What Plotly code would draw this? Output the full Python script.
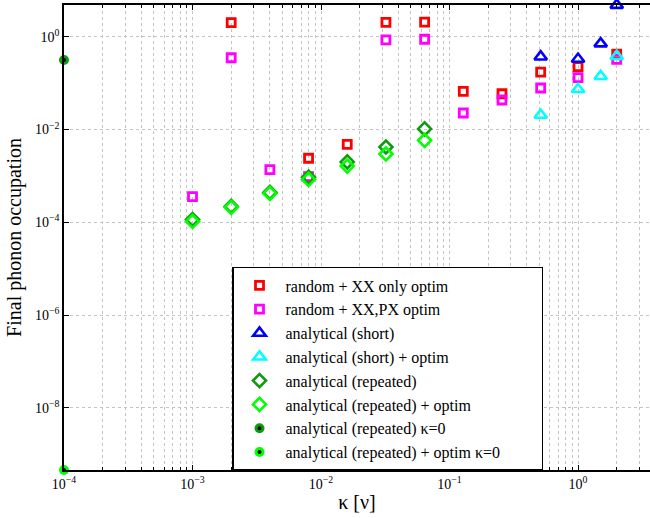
import plotly.graph_objects as go

# ---- data ----
x_red = [0.002, 0.008, 0.016, 0.032, 0.064, 0.128, 0.256, 0.512, 1.0, 2.0]
y_red = [2.0, 0.0024, 0.0048, 2.04, 2.07, 0.0665, 0.059, 0.173, 0.226, 0.42]

x_mag = [0.001, 0.002, 0.004, 0.008, 0.032, 0.064, 0.128, 0.256, 0.512, 1.0, 2.0, 3.9]
y_mag = [3.56e-4, 0.352, 1.36e-3, 9.6e-4, 0.85, 0.88, 0.0227, 0.0432, 0.0784, 0.131, 0.326, 1.0]

x_blue = [0.512, 1.0, 1.5, 2.0]
y_blue = [0.37, 0.33, 0.71, 4.8]

x_cyan = [0.512, 1.0, 1.5, 2.0]
y_cyan = [0.0205, 0.0735, 0.14, 0.38]

x_dg = [0.001, 0.002, 0.004, 0.008, 0.016, 0.032, 0.064]
y_dg = [1.15e-4, 2.2e-4, 4.4e-4, 9.4e-4, 2.0e-3, 4.2e-3, 0.0103]

x_lg = [0.001, 0.002, 0.004, 0.008, 0.016, 0.032, 0.064]
y_lg = [1.05e-4, 2.1e-4, 4.2e-4, 8.4e-4, 1.63e-3, 2.97e-3, 5.85e-3]

x_k0 = [1e-4]
y_k0 = [0.315]
x_k0o = [1e-4]
y_k0o = [4.6e-10]

x_tickvals = [1e-4, 1e-3, 1e-2, 1e-1, 1e0]
x_ticktext = ["10<sup>−4</sup>", "10<sup>−3</sup>", "10<sup>−2</sup>", "10<sup>−1</sup>", "10<sup>0</sup>"]
y_tickvals = [1e-8, 1e-6, 1e-4, 1e-2, 1e0]
y_ticktext = ["10<sup>−8</sup>", "10<sup>−6</sup>", "10<sup>−4</sup>", "10<sup>−2</sup>", "10<sup>0</sup>"]

names = [
    "random + XX only optim",
    "random + XX,PX optim",
    "analytical (short)",
    "analytical (short) + optim",
    "analytical (repeated)",
    "analytical (repeated) + optim",
    "analytical (repeated) κ=0",
    "analytical (repeated) + optim κ=0",
]
# invisible padding so the legend box is as wide as in the reference
labels = list(names)
labels[-1] = labels[-1] + "\u00a0" * 9

DG = "#0f9a0f"
LG = "#00ff00"

fig = go.Figure()

def add(xs, ys, name, symbol, color, size, lw, fill=None):
    fig.add_trace(go.Scatter(
        x=xs, y=ys, mode="markers", name=name, cliponaxis=False,
        marker=dict(symbol=symbol, size=size,
                    color=fill if fill else color,
                    line=dict(color=color, width=lw)),
    ))

add(x_red, y_red, labels[0], "square-open", "#ff0000", 8, 2.8)
add(x_mag, y_mag, labels[1], "square-open", "#ff00ff", 8, 2.8)
add(x_blue, y_blue, labels[2], "triangle-up-open", "#0000ff", 11, 2.6)
add(x_cyan, y_cyan, labels[3], "triangle-up-open", "#00ffff", 11, 2.6)
add(x_dg, y_dg, labels[4], "diamond-open", DG, 10, 2.6)
add(x_lg, y_lg, labels[5], "diamond-open", LG, 10, 2.6)
add(x_k0, y_k0, labels[6], "circle", DG, 7, 3, fill="#000000")
add(x_k0o, y_k0o, labels[7], "circle", LG, 7, 3, fill="#000000")

minor_vals = [k * 10.0 ** n for n in range(-4, 1) for k in range(2, 10)]

FONT = "Liberation Serif, Times New Roman, serif"
GRID = "#c4c4c4"

fig.update_layout(
    width=650, height=518,
    margin=dict(l=64, r=0, t=5, b=48),
    paper_bgcolor="white", plot_bgcolor="white",
    font=dict(family=FONT, size=14, color="black"),
    showlegend=True,
    legend=dict(
        x=0.2867, y=0.4366, xanchor="left", yanchor="top",
        bgcolor="white", bordercolor="black", borderwidth=1.5,
        font=dict(family=FONT, size=16, color="black"),
        itemwidth=42,
    ),
    xaxis=dict(
        type="log", range=[-4, 0.56],
        tickmode="array", tickvals=x_tickvals, ticktext=x_ticktext,
        ticks="inside", ticklen=5, tickwidth=1, tickcolor="black",
        showline=True, linecolor="black", linewidth=1.5, mirror="ticks",
        showgrid=True, gridcolor=GRID, griddash="dot", gridwidth=1,
        zeroline=False,
        tickfont=dict(family=FONT, size=14),
        minor=dict(tickmode="array", tickvals=minor_vals, ticks="inside",
                   ticklen=3, tickcolor="black", showgrid=True,
                   gridcolor=GRID, griddash="dot", gridwidth=1),
        title=dict(text="κ [ν]", font=dict(family=FONT, size=20), standoff=4),
    ),
    yaxis=dict(
        type="log", range=[-9.338, 0.683],
        tickmode="array", tickvals=y_tickvals, ticktext=y_ticktext,
        ticks="inside", ticklen=5, tickwidth=1, tickcolor="black",
        showline=True, linecolor="black", linewidth=1.5, mirror=False,
        showgrid=True, gridcolor=GRID, griddash="dot", gridwidth=1,
        zeroline=False,
        tickfont=dict(family=FONT, size=14),
        title=dict(text="Final phonon occupation", font=dict(family=FONT, size=20), standoff=8),
    ),
)

fig.write_html("out.html", config={"displayModeBar": False},
               post_script="document.body.style.margin='0';document.body.style.overflow='hidden';")
